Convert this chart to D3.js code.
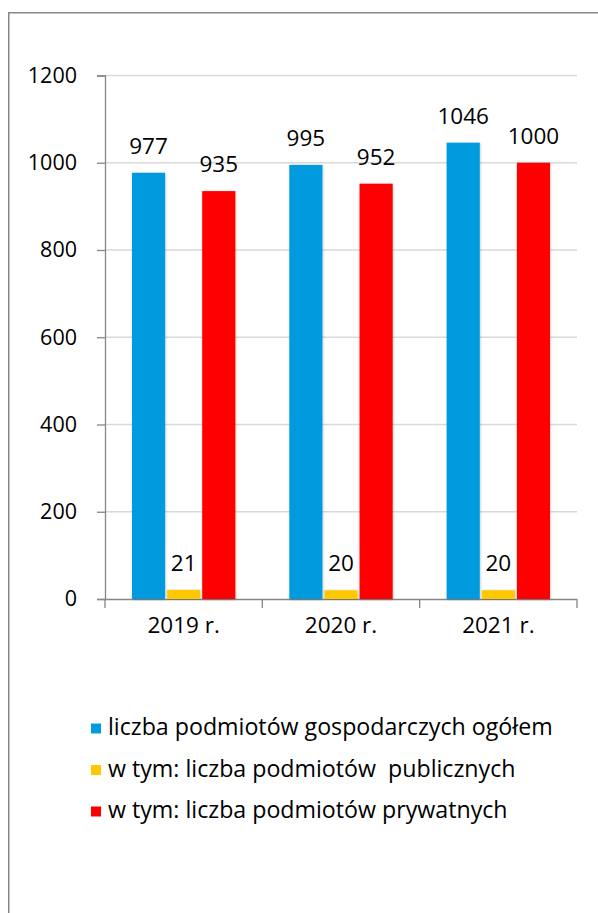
<!DOCTYPE html>
<html>
<head>
<meta charset="utf-8">
<script src="https://cdn.jsdelivr.net/npm/d3@7"></script>
<style>
  html, body { margin: 0; padding: 0; background: #fff; }
  svg { display: block; font-family: "Open Sans", "DejaVu Sans", sans-serif; }
</style>
</head>
<body>
<script>
const categories = ["2019 r.", "2020 r.", "2021 r."];
const seriesNames = [
  "liczba podmiotów gospodarczych ogółem",
  "w tym: liczba podmiotów  publicznych",
  "w tym: liczba podmiotów prywatnych"
];
const totalValues = [977, 995, 1046];
const publicValues = [21, 20, 20];
const privateValues = [935, 952, 1000];
const yTicks = [0, 200, 400, 600, 800, 1000, 1200];
const colors = ["#009ADE", "#FFC800", "#FF0000"];

const seriesValues = [totalValues, publicValues, privateValues];

const W = 598, H = 913;
const svg = d3.select("body").append("svg").attr("width", W).attr("height", H);

const defs = svg.append("defs");
const f = defs.append("filter").attr("id", "shadow").attr("x", "-20%").attr("y", "-5%").attr("width", "140%").attr("height", "110%");
f.append("feDropShadow").attr("dx", 0.5).attr("dy", 0.5).attr("stdDeviation", 1.2)
  .attr("flood-color", "#000").attr("flood-opacity", 0.25);

// outer frame
svg.append("path")
  .attr("d", `M8.75,${H + 5} V12.75 H${W + 5}`)
  .attr("fill", "none").attr("stroke", "#878787").attr("stroke-width", 1.5);

const plot = { left: 105, right: 577, top: 75.5, bottom: 599 };

const x0 = d3.scaleBand().domain(categories).range([plot.left, plot.right]).paddingInner(0).paddingOuter(0);
const groupPad = 27;
const x1 = d3.scaleBand().domain(d3.range(3))
  .range([groupPad, x0.bandwidth() - groupPad]).paddingInner(0.057).paddingOuter(0);
const y = d3.scaleLinear().domain([0, 1200]).range([plot.bottom, plot.top]);

// gridlines
svg.append("g").selectAll("line").data(yTicks.filter(d => d > 0)).join("line")
  .attr("x1", plot.left).attr("x2", plot.right)
  .attr("y1", d => y(d)).attr("y2", d => y(d))
  .attr("stroke", "#D9D9D9").attr("stroke-width", 1.3);

// y axis
const yAxis = svg.append("g").attr("transform", `translate(${plot.left},0)`)
  .call(d3.axisLeft(y).tickValues(yTicks).tickSize(8).tickPadding(20).tickFormat(d3.format("d")));
yAxis.select(".domain").attr("stroke", "#868686").attr("stroke-width", 1.3);
yAxis.selectAll(".tick line").attr("stroke", "#868686").attr("stroke-width", 1.3);
yAxis.selectAll(".tick text").attr("font-size", 21.5).attr("fill", "#000")
  .attr("font-family", "Open Sans");

// x axis
const xAxis = svg.append("g").attr("transform", `translate(0,${plot.bottom})`)
  .call(d3.axisBottom(x0).tickSize(0).tickPadding(18));
xAxis.select(".domain").attr("stroke", "#868686").attr("stroke-width", 1.3)
  .attr("d", `M${plot.left},0.5H${plot.right}`);
xAxis.selectAll(".tick text").attr("font-size", 22.5).attr("fill", "#000").attr("font-family", "Open Sans");
// category boundary ticks
const bounds = categories.map(c => x0(c)).concat([x0(categories[categories.length - 1]) + x0.bandwidth()]);
svg.append("g").selectAll("line").data(bounds).join("line")
  .attr("x1", d => d).attr("x2", d => d)
  .attr("y1", plot.bottom).attr("y2", plot.bottom + 9)
  .attr("stroke", "#868686").attr("stroke-width", 1.3);

// bars
const groups = svg.append("g").selectAll("g").data(categories).join("g")
  .attr("transform", c => `translate(${x0(c)},0)`);
groups.selectAll("rect").data((c, i) => seriesValues.map((s, k) => ({ k, v: s[i] }))).join("rect")
  .attr("x", d => x1(d.k)).attr("width", x1.bandwidth())
  .attr("y", d => y(d.v)).attr("height", d => y(0) - y(d.v))
  .attr("fill", d => colors[d.k])
  .attr("filter", "url(#shadow)");
groups.selectAll("text").data((c, i) => seriesValues.map((s, k) => ({ k, v: s[i] }))).join("text")
  .attr("x", d => x1(d.k) + x1.bandwidth() / 2)
  .attr("y", d => y(d.v) - 19)
  .attr("text-anchor", "middle").attr("font-size", 22.5).attr("fill", "#000")
  .text(d => d.v);

// legend
const legend = svg.append("g");
const rows = legend.selectAll("g").data(seriesNames).join("g")
  .attr("transform", (d, i) => `translate(0,${735 + i * 41.5})`);
rows.append("rect").attr("x", 91).attr("y", -11.5).attr("width", 10).attr("height", 10)
  .attr("fill", (d, i) => colors[i]);
rows.append("text").attr("x", 108).attr("y", 0).attr("font-size", 23.2).attr("fill", "#000")
  .attr("xml:space", "preserve").style("white-space", "pre")
  .text(d => d);
</script>
</body>
</html>
